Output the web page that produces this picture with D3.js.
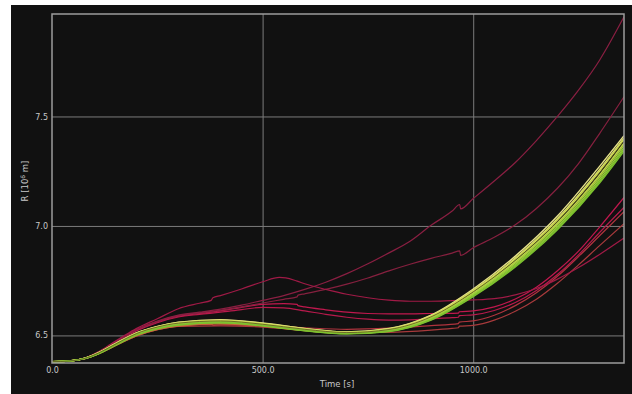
<!DOCTYPE html>
<html>
<head>
<meta charset="utf-8">
<script src="https://cdn.jsdelivr.net/npm/d3@7"></script>
<style>
  body { margin: 0; background: #fff; }
  text { font-family: "DejaVu Sans", sans-serif; fill: #c8c8c8; }
</style>
</head>
<body>
<div id="chart"></div>
<script>
// tick values
var xTicks = [0, 500, 1000];
var yTicks = [6.5, 7.0, 7.5];

// common time grid for the green/yellow bundle (s)
var bundleT = [0, 40, 80, 110, 140, 170, 200, 250, 300, 400, 500, 600, 700, 800, 900, 1000, 1100, 1200, 1300, 1358];

// bundle runs, R in 10^6 m
var runY1 = [6.380, 6.383, 6.397, 6.421, 6.452, 6.483, 6.511, 6.541, 6.560, 6.572, 6.557, 6.532, 6.516, 6.532, 6.593, 6.712, 6.862, 7.045, 7.272, 7.412];
var runY2 = [6.380, 6.383, 6.397, 6.420, 6.451, 6.482, 6.510, 6.540, 6.559, 6.570, 6.555, 6.531, 6.515, 6.530, 6.590, 6.706, 6.853, 7.034, 7.258, 7.402];
var runY3 = [6.380, 6.383, 6.396, 6.419, 6.450, 6.481, 6.509, 6.539, 6.557, 6.568, 6.553, 6.529, 6.514, 6.528, 6.587, 6.702, 6.848, 7.027, 7.250, 7.395];
var runD1 = [6.380, 6.383, 6.396, 6.419, 6.449, 6.480, 6.508, 6.538, 6.556, 6.566, 6.551, 6.528, 6.513, 6.527, 6.585, 6.699, 6.843, 7.020, 7.242, 7.388];
var runL1 = [6.380, 6.383, 6.396, 6.418, 6.448, 6.478, 6.506, 6.536, 6.554, 6.565, 6.550, 6.527, 6.512, 6.525, 6.582, 6.695, 6.838, 7.013, 7.232, 7.378];
var runL2 = [6.380, 6.383, 6.396, 6.418, 6.447, 6.477, 6.505, 6.535, 6.552, 6.563, 6.548, 6.525, 6.511, 6.523, 6.579, 6.690, 6.831, 7.005, 7.222, 7.368];
var runG1 = [6.380, 6.383, 6.395, 6.417, 6.446, 6.476, 6.503, 6.533, 6.550, 6.561, 6.546, 6.523, 6.509, 6.521, 6.575, 6.685, 6.824, 6.996, 7.212, 7.358];
var runG2 = [6.380, 6.383, 6.395, 6.416, 6.445, 6.475, 6.502, 6.532, 6.548, 6.559, 6.545, 6.522, 6.508, 6.519, 6.572, 6.680, 6.818, 6.989, 7.203, 7.350];
var runG3 = [6.380, 6.383, 6.395, 6.416, 6.444, 6.474, 6.501, 6.530, 6.547, 6.558, 6.544, 6.521, 6.507, 6.518, 6.570, 6.677, 6.813, 6.983, 7.196, 7.342];
var runO1 = [6.380, 6.383, 6.395, 6.416, 6.443, 6.472, 6.498, 6.527, 6.543, 6.553, 6.542, 6.522, 6.510, 6.522, 6.578, 6.690, 6.834, 7.010, 7.230, 7.376];

// red runs as [time, R] pairs
var redTop = [[0,6.380],[40,6.383],[80,6.397],[110,6.423],[140,6.458],[170,6.493],[200,6.527],[250,6.566],[300,6.593],[350,6.606],[400,6.620],[450,6.638],[500,6.660],[550,6.682],[600,6.710],[650,6.743],[700,6.782],[750,6.827],[800,6.877],[850,6.930],[900,7.003],[950,7.068],[968,7.098],[970,7.078],[1000,7.125],[1050,7.205],[1100,7.290],[1150,7.390],[1200,7.500],[1250,7.620],[1300,7.757],[1358,7.955]];
var redSecond = [[0,6.380],[40,6.383],[80,6.397],[110,6.423],[140,6.457],[170,6.492],[200,6.525],[250,6.563],[300,6.590],[350,6.603],[400,6.615],[450,6.630],[500,6.648],[550,6.665],[582,6.676],[584,6.684],[600,6.690],[650,6.710],[700,6.734],[750,6.762],[800,6.795],[850,6.825],[900,6.852],[950,6.876],[968,6.886],[970,6.866],[1000,6.900],[1050,6.948],[1100,7.005],[1150,7.080],[1200,7.172],[1250,7.285],[1300,7.422],[1358,7.590]];
var redHump = [[0,6.380],[40,6.383],[80,6.398],[110,6.425],[140,6.461],[170,6.497],[200,6.531],[250,6.576],[300,6.622],[350,6.647],[378,6.660],[382,6.672],[400,6.682],[450,6.712],[500,6.745],[540,6.765],[555,6.763],[582,6.748],[600,6.736],[650,6.710],[700,6.688],[750,6.672],[800,6.661],[850,6.656],[900,6.656],[950,6.659],[1000,6.662],[1050,6.668],[1100,6.685],[1150,6.714],[1200,6.757],[1250,6.810],[1300,6.870],[1358,6.945]];
var redMid1 = [[0,6.380],[40,6.383],[80,6.397],[110,6.422],[140,6.456],[170,6.491],[200,6.523],[250,6.562],[300,6.588],[350,6.600],[400,6.612],[450,6.628],[500,6.642],[550,6.645],[582,6.642],[584,6.636],[600,6.630],[650,6.617],[700,6.606],[750,6.600],[800,6.598],[850,6.598],[900,6.600],[950,6.601],[965,6.602],[967,6.608],[1000,6.612],[1050,6.630],[1100,6.666],[1150,6.720],[1200,6.795],[1250,6.885],[1300,6.995],[1358,7.130]];
var redMid2 = [[0,6.380],[40,6.383],[80,6.397],[110,6.422],[140,6.455],[170,6.489],[200,6.520],[250,6.558],[300,6.584],[350,6.596],[400,6.606],[450,6.618],[500,6.628],[550,6.626],[600,6.612],[650,6.596],[700,6.583],[750,6.574],[800,6.570],[850,6.571],[900,6.576],[950,6.581],[965,6.583],[967,6.590],[1000,6.594],[1050,6.614],[1100,6.650],[1150,6.705],[1200,6.778],[1250,6.868],[1300,6.970],[1358,7.085]];
var redLow1 = [[0,6.380],[40,6.383],[80,6.395],[110,6.416],[140,6.445],[170,6.474],[200,6.500],[250,6.530],[300,6.545],[380,6.550],[382,6.546],[400,6.548],[500,6.545],[600,6.535],[700,6.528],[800,6.533],[900,6.545],[965,6.554],[967,6.561],[1000,6.566],[1050,6.592],[1100,6.636],[1150,6.695],[1200,6.770],[1250,6.860],[1300,6.955],[1358,7.065]];
var redLow2 = [[0,6.380],[40,6.383],[80,6.395],[110,6.415],[140,6.443],[170,6.472],[200,6.497],[250,6.526],[300,6.541],[400,6.544],[500,6.538],[600,6.524],[700,6.513],[800,6.514],[900,6.524],[950,6.532],[965,6.535],[967,6.542],[1000,6.546],[1050,6.570],[1100,6.610],[1150,6.665],[1200,6.738],[1250,6.822],[1300,6.910],[1358,7.010]];

var width = 632, height = 394;
var svg = d3.select("#chart").append("svg")
  .attr("width", width)
  .attr("height", height);

// dark panel
svg.append("rect")
  .attr("x", 11).attr("y", 5)
  .attr("width", width - 11).attr("height", height - 5)
  .attr("fill", "#111111");

var x = d3.scaleLinear().domain([0, 1358]).range([52, 624]);
var y = d3.scaleLinear().domain([6.374, 7.968]).range([363, 14]);

// grid
svg.append("g")
  .attr("transform", "translate(0,14)")
  .call(d3.axisBottom(x).tickValues([500, 1000]).tickSize(349).tickFormat(""))
  .call(g => g.select(".domain").remove())
  .selectAll("line").attr("stroke", "#7c7c7c").attr("stroke-width", 1);

svg.append("g")
  .attr("transform", "translate(52,0)")
  .call(d3.axisRight(y).tickValues(yTicks).tickSize(572).tickFormat(""))
  .call(g => g.select(".domain").remove())
  .selectAll("line").attr("stroke", "#7c7c7c").attr("stroke-width", 1);

svg.append("clipPath").attr("id", "plotclip")
  .append("rect").attr("x", 52).attr("y", 14).attr("width", 572).attr("height", 349);

var line = d3.line()
  .x(d => x(d[0]))
  .y(d => y(d[1]))
  .curve(d3.curveMonotoneX);

var plot = svg.append("g").attr("clip-path", "url(#plotclip)");

var redRuns = [redLow2, redLow1, redMid2, redMid1, redSecond, redTop, redHump];
var redColors = ["#a83a3c", "#b0343e", "#b81a4c", "#c0184e", "#86203f", "#8a1f42", "#a01a46"];

plot.selectAll("path.red")
  .data(redRuns)
  .enter().append("path")
  .attr("class", "red")
  .attr("d", line)
  .attr("fill", "none")
  .attr("stroke", (d, i) => redColors[i])
  .attr("stroke-width", 1.2);

var bundleRuns = [runO1, runY1, runY2, runY3, runL1, runL2, runG1, runG2, runG3, runD1];
var bundleColors = ["#c8663a", "#e6e28a", "#dcdc6c", "#cddb52", "#b6d84a", "#a6d140", "#96cc38", "#88c632", "#7cc02e", "#5e5020"];

plot.selectAll("path.bundle")
  .data(bundleRuns.map(r => r.map((v, i) => [bundleT[i], v])))
  .enter().append("path")
  .attr("class", "bundle")
  .attr("d", line)
  .attr("fill", "none")
  .attr("stroke", (d, i) => bundleColors[i])
  .attr("stroke-width", (d, i) => i == 9 ? 0.8 : 1.4);

// frame
svg.append("rect")
  .attr("x", 52).attr("y", 14).attr("width", 572).attr("height", 349)
  .attr("fill", "none").attr("stroke", "#9c9c9c").attr("stroke-width", 1.5);

// axes labels
var xAxis = svg.append("g")
  .attr("transform", "translate(0,363)")
  .call(d3.axisBottom(x).tickValues(xTicks).tickSize(0).tickPadding(4).tickFormat(d3.format(".1f")));
xAxis.select(".domain").remove();
xAxis.selectAll("text").attr("font-size", 8).attr("fill", "#c8c8c8")
  .style("font-family", "DejaVu Sans, sans-serif");

var yAxis = svg.append("g")
  .attr("transform", "translate(52,0)")
  .call(d3.axisLeft(y).tickValues(yTicks).tickSize(0).tickPadding(4).tickFormat(d3.format(".1f")));
yAxis.select(".domain").remove();
yAxis.selectAll("text").attr("font-size", 8).attr("fill", "#c8c8c8")
  .style("font-family", "DejaVu Sans, sans-serif");

svg.append("text")
  .attr("x", 337).attr("y", 387)
  .attr("text-anchor", "middle")
  .attr("font-size", 8.5)
  .text("Time [s]");

var yt = svg.append("text")
  .attr("transform", "translate(28,181) rotate(-90)")
  .attr("text-anchor", "middle")
  .attr("font-size", 8.5);
yt.append("tspan").text("R [10");
yt.append("tspan").attr("dy", -3).attr("font-size", 6).text("6");
yt.append("tspan").attr("dy", 3).text(" m]");
</script>
</body>
</html>
